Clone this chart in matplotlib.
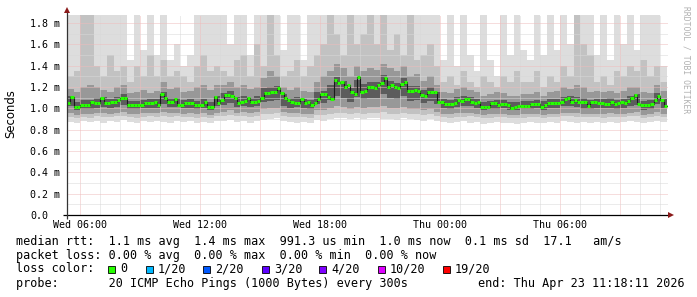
import matplotlib
matplotlib.use("Agg")
import matplotlib.pyplot as plt
import numpy as np
from matplotlib.patches import Rectangle

# ---------------- data ----------------
# median RTT (ms), one value per 10 minutes, starting Wed 05:21
median = [
    1.047, 1.109, 1.015, 1.015, 1.031, 1.031, 1.031, 1.063, 1.053, 1.047,
    1.100, 1.047, 1.047, 1.063, 1.063, 1.078, 1.094, 1.094, 1.031, 1.031,
    1.031, 1.031, 1.031, 1.047, 1.047, 1.047, 1.063, 1.031, 1.131, 1.094,
    1.063, 1.063, 1.084, 1.031, 1.031, 1.047, 1.047, 1.047, 1.031, 1.031,
    1.031, 1.063, 1.015, 1.015, 1.109, 1.047,
    1.078, 1.125, 1.125, 1.119, 1.094, 1.047, 1.056, 1.069, 1.094, 1.063,
    1.056, 1.072, 1.094, 1.140, 1.147, 1.150, 1.150, 1.187, 1.140, 1.094,
    1.075, 1.063, 1.050, 1.050, 1.084, 1.047, 1.056, 1.031, 1.047, 1.088,
    1.131, 1.137, 1.109, 1.084, 1.265, 1.234, 1.250, 1.203, 1.218, 1.156,
    1.131, 1.296, 1.150, 1.162, 1.200, 1.203, 1.187,
    1.218, 1.234, 1.287, 1.203, 1.218, 1.203, 1.187, 1.224, 1.243, 1.162,
    1.162, 1.169, 1.162, 1.125, 1.119, 1.150, 1.150, 1.156, 1.056, 1.063,
    1.044, 1.038, 1.038, 1.053, 1.078, 1.069, 1.088, 1.084, 1.063, 1.047,
    1.056, 1.015, 1.015, 1.009, 1.047, 1.047, 1.031, 1.041, 1.044, 1.031,
    1.006, 1.015, 1.025, 1.025, 1.022, 1.025,
    1.038, 1.041, 1.038, 1.015, 1.031, 1.047, 1.047, 1.047, 1.050, 1.063,
    1.084, 1.094, 1.056, 1.078, 1.056, 1.063, 1.063, 1.025, 1.056, 1.056,
    1.047, 1.050, 1.044, 1.041, 1.063, 1.038, 1.047, 1.056, 1.050, 1.069,
    1.100, 1.125, 1.041, 1.031, 1.031, 1.031, 1.041, 1.078, 1.119, 1.078,
    1.025,
]

# smoke (ping distribution, ms), one value per 20 minutes
s_max = [
    1.9, 1.9, 1.9, 1.9, 1.9, 1.9, 1.9, 1.9, 1.9, 1.45, 1.9, 1.55, 1.9, 1.5,
    1.9, 1.45, 1.6, 1.4, 1.5, 1.9, 1.9, 1.9, 1.9,
    1.9, 1.6, 1.9, 1.9, 1.5, 1.9, 1.9, 1.9, 1.9, 1.55, 1.9, 1.9, 1.45, 1.9,
    1.9, 1.9, 1.9, 1.9, 1.9, 1.9, 1.9, 1.9, 1.9,
    1.9, 1.9, 1.9, 1.9, 1.9, 1.9, 1.9, 1.9, 1.9, 1.9, 1.45, 1.9, 1.4, 1.9,
    1.5, 1.35, 1.9, 1.45, 1.3, 1.9, 1.5, 1.9, 1.55,
    1.45, 1.9, 1.5, 1.9, 1.55, 1.9, 1.6, 1.9, 1.9, 1.9, 1.5, 1.9, 1.45, 1.9,
    1.6, 1.9, 1.55, 1.9, 1.9, 1.9, 1.4,
]
s_hi2 = [
    1.3, 1.35, 1.9, 1.9, 1.4, 1.3, 1.5, 1.35, 1.4,
    1.25, 1.4, 1.3, 1.5, 1.3, 1.45, 1.3, 1.35, 1.3, 1.25, 1.4, 1.5, 1.35, 1.4,
    1.35, 1.3, 1.45, 1.5, 1.3, 1.6, 1.4, 1.9, 1.5, 1.3, 1.35, 1.45, 1.3, 1.4,
    1.5, 1.6, 1.9, 1.7, 1.5, 1.9, 1.6, 1.7, 1.9,
    1.6, 1.9, 1.55, 1.7, 1.5, 1.9, 1.45, 1.5, 1.6, 1.4, 1.25, 1.3, 1.22, 1.35,
    1.25, 1.2, 1.3, 1.25, 1.2, 1.3, 1.25, 1.35, 1.25,
    1.25, 1.35, 1.2, 1.3, 1.25, 1.4, 1.3, 1.9, 1.6, 1.5, 1.25, 1.3, 1.22, 1.35,
    1.3, 1.4, 1.35, 1.45, 1.3, 1.4, 1.25,
]
s_hi3 = [
    1.18, 1.15, 1.2, 1.22, 1.2, 1.17, 1.15, 1.2, 1.22, 1.14, 1.15, 1.17, 1.14,
    1.16, 1.25, 1.18, 1.2, 1.15, 1.16, 1.2, 1.22, 1.17, 1.22,
    1.22, 1.25, 1.2, 1.22, 1.18, 1.2, 1.28, 1.35, 1.3, 1.2, 1.17, 1.2, 1.16,
    1.15, 1.25, 1.3, 1.35, 1.42, 1.38, 1.3, 1.4, 1.35, 1.38,
    1.36, 1.42, 1.38, 1.35, 1.4, 1.3, 1.32, 1.26, 1.3, 1.22, 1.15, 1.14, 1.18,
    1.2, 1.17, 1.15, 1.12, 1.13, 1.15, 1.14, 1.12, 1.12, 1.13,
    1.13, 1.15, 1.12, 1.15, 1.16, 1.2, 1.18, 1.22, 1.2, 1.15, 1.16, 1.15, 1.16,
    1.14, 1.16, 1.2, 1.2, 1.15, 1.14, 1.22, 1.16,
]
s_hi4 = [
    1.12, 1.06, 1.08, 1.08, 1.1, 1.11, 1.09, 1.11, 1.13, 1.07, 1.07, 1.08, 1.09,
    1.09, 1.15, 1.1, 1.1, 1.08, 1.09, 1.07, 1.09, 1.06, 1.12,
    1.14, 1.16, 1.11, 1.12, 1.1, 1.12, 1.19, 1.2, 1.21, 1.13, 1.1, 1.11, 1.09,
    1.08, 1.15, 1.16, 1.22, 1.29, 1.26, 1.19, 1.27, 1.23, 1.25,
    1.25, 1.31, 1.26, 1.24, 1.28, 1.21, 1.21, 1.17, 1.2, 1.15, 1.09, 1.08, 1.11,
    1.12, 1.11, 1.09, 1.06, 1.07, 1.08, 1.08, 1.06, 1.06, 1.07,
    1.07, 1.08, 1.07, 1.09, 1.09, 1.11, 1.12, 1.11, 1.1, 1.08, 1.09, 1.09, 1.1,
    1.08, 1.09, 1.12, 1.13, 1.07, 1.08, 1.14, 1.09,
]
s_lo4 = [
    1.02, 0.98, 0.99, 0.99, 1.0, 1.01, 1.0, 1.01, 1.03, 0.99, 0.99, 1.0, 1.0,
    1.0, 1.04, 1.01, 1.01, 1.0, 1.0, 0.99, 1.0, 0.98, 1.02,
    1.03, 1.05, 1.01, 1.02, 1.01, 1.02, 1.06, 1.07, 1.08, 1.02, 1.0, 1.01, 1.0,
    0.99, 1.04, 1.05, 1.08, 1.12, 1.1, 1.06, 1.11, 1.09, 1.1,
    1.1, 1.13, 1.1, 1.09, 1.12, 1.07, 1.08, 1.05, 1.07, 1.04, 1.0, 0.99, 1.01,
    1.02, 1.02, 1.0, 0.98, 0.99, 0.99, 1.0, 0.98, 0.98, 0.99,
    0.99, 1.0, 0.98, 1.0, 1.0, 1.02, 1.02, 1.01, 0.99, 0.99, 1.0, 1.0, 1.0,
    0.99, 1.0, 1.02, 1.03, 0.98, 0.99, 1.04, 1.0,
]
s_lo3 = [
    0.96, 0.94, 0.95, 0.95, 0.96, 0.96, 0.95, 0.96, 0.97, 0.95, 0.95, 0.96, 0.96,
    0.96, 0.97, 0.96, 0.96, 0.95, 0.96, 0.95, 0.96, 0.94, 0.96,
    0.97, 0.98, 0.96, 0.97, 0.96, 0.97, 0.99, 1.0, 1.0, 0.97, 0.96, 0.96, 0.95,
    0.95, 0.98, 0.98, 1.0, 1.02, 1.01, 0.99, 1.01, 1.0, 1.01,
    1.01, 1.02, 1.0, 1.0, 1.01, 0.99, 0.99, 0.98, 0.99, 0.97, 0.95, 0.95, 0.96,
    0.96, 0.96, 0.95, 0.94, 0.95, 0.95, 0.95, 0.94, 0.94, 0.95,
    0.95, 0.95, 0.94, 0.95, 0.95, 0.96, 0.96, 0.96, 0.95, 0.95, 0.95, 0.95, 0.96,
    0.95, 0.95, 0.96, 0.97, 0.94, 0.95, 0.97, 0.95,
]
s_lo2 = [
    0.92, 0.91, 0.92, 0.91, 0.93, 0.92, 0.92, 0.93, 0.93, 0.92, 0.91, 0.92, 0.93,
    0.92, 0.93, 0.92, 0.93, 0.92, 0.92, 0.91, 0.92, 0.91, 0.93,
    0.93, 0.94, 0.93, 0.93, 0.92, 0.93, 0.95, 0.95, 0.96, 0.93, 0.92, 0.92, 0.92,
    0.91, 0.94, 0.94, 0.95, 0.96, 0.96, 0.95, 0.96, 0.95, 0.96,
    0.96, 0.97, 0.95, 0.95, 0.96, 0.95, 0.95, 0.94, 0.95, 0.93, 0.92, 0.91, 0.92,
    0.92, 0.93, 0.92, 0.91, 0.91, 0.92, 0.92, 0.91, 0.91, 0.91,
    0.92, 0.92, 0.91, 0.92, 0.92, 0.93, 0.93, 0.92, 0.92, 0.92, 0.92, 0.91, 0.92,
    0.92, 0.92, 0.93, 0.93, 0.91, 0.92, 0.93, 0.92,
]
s_min = [
    0.87, 0.86, 0.88, 0.87, 0.88, 0.86, 0.88, 0.87, 0.89, 0.87, 0.86, 0.88, 0.87,
    0.88, 0.87, 0.86, 0.88, 0.87, 0.88, 0.86, 0.87, 0.86, 0.88,
    0.88, 0.89, 0.87, 0.88, 0.86, 0.88, 0.89, 0.9, 0.91, 0.88, 0.87, 0.86, 0.87,
    0.86, 0.89, 0.88, 0.9, 0.91, 0.91, 0.9, 0.91, 0.9, 0.91,
    0.91, 0.9, 0.9, 0.89, 0.91, 0.9, 0.89, 0.88, 0.9, 0.88, 0.87, 0.86, 0.87,
    0.88, 0.86, 0.87, 0.85, 0.86, 0.87, 0.86, 0.86, 0.85, 0.86,
    0.87, 0.86, 0.86, 0.87, 0.86, 0.88, 0.87, 0.86, 0.87, 0.86, 0.87, 0.86, 0.87,
    0.86, 0.87, 0.88, 0.87, 0.86, 0.87, 0.88, 0.87,
]

x_tick_hours = [6, 12, 18, 24, 30]
x_tick_labels = ["Wed 06:00", "Wed 12:00", "Wed 18:00", "Thu 00:00", "Thu 06:00"]
y_tick_values = [0.0, 0.2, 0.4, 0.6, 0.8, 1.0, 1.2, 1.4, 1.6, 1.8]
y_tick_labels = ["0.0", "0.2 m", "0.4 m", "0.6 m", "0.8 m", "1.0 m",
                 "1.2 m", "1.4 m", "1.6 m", "1.8 m"]

loss_labels = ["0", "1/20", "2/20", "3/20", "4/20", "10/20", "19/20"]
loss_colors = ["#26ff00", "#00b8ff", "#0059ff", "#5e00ff", "#7e00ff", "#dd00ff", "#ff0000"]

legend_line1 = "median rtt:  1.1 ms avg  1.4 ms max  991.3 us min  1.0 ms now  0.1 ms sd  17.1   am/s"
legend_line2 = "packet loss: 0.00 % avg  0.00 % max  0.00 % min  0.00 % now"
legend_line3 = "loss color:"
legend_line4 = "probe:       20 ICMP Echo Pings (1000 Bytes) every 300s"
legend_end = "end: Thu Apr 23 11:18:11 2026"

# ---------------- figure ----------------
W, H = 697, 297
fig = plt.figure(figsize=(W / 100, H / 100), dpi=100)
fig.patch.set_facecolor("white")
ax = fig.add_axes([67 / W, 82 / H, 601 / W, 200 / H])
ax.set_facecolor("white")

T0 = 5.35
t_med = T0 + np.arange(len(median) + 1) / 6.0
t_sm = T0 + np.arange(len(s_max) + 1) / 3.0


def ext(a):
    a = np.asarray(a, dtype=float)
    return np.append(a, a[-1])


bands = [(s_min, s_max, "#dddddd"), (s_lo2, s_hi2, "#c2c2c2"),
         (s_lo3, s_hi3, "#989898"), (s_lo4, s_hi4, "#5c5c5c")]
for lo, hi, c in bands:
    ax.fill_between(t_sm, ext(lo), ext(hi), step="post", color=c, lw=0, zorder=1)

# grid (light dotted)
dot = (0, (1, 1))
for h in range(6, 36):
    major = (h % 3 == 0)
    ax.axvline(h, color="#efbcbc" if major else "#d9d9d9", lw=0.72, ls=dot, zorder=2)
for k in range(1, 19):
    v = k * 0.1
    major = (k % 2 == 0)
    ax.axhline(v, color="#efbcbc" if major else "#d9d9d9", lw=0.72, ls=dot, zorder=2)

# median
med = np.asarray(median)
ax.step(t_med, ext(med), where="post", color="#1a1a1a", lw=0.8, zorder=3)
ax.hlines(med, t_med[:-1], t_med[1:], colors=loss_colors[0], lw=2.2, zorder=4)

ax.set_xlim(T0, 35.4)
ax.set_ylim(0, 1.875)
for s in ax.spines.values():
    s.set_visible(False)

ax.set_xticks(x_tick_hours)
ax.set_xticklabels(x_tick_labels, family="DejaVu Sans Mono", fontsize=7.2)
ax.set_yticks(y_tick_values)
ax.set_yticklabels(y_tick_labels, family="DejaVu Sans Mono", fontsize=7.2, ha="left")
ax.tick_params(axis="x", length=0, pad=3.5)
ax.tick_params(axis="y", length=0, pad=26.6)

# axes lines + arrows
ax.plot([-4 / 601, 1.0], [0, 0], transform=ax.transAxes, color="black", lw=0.9,
        clip_on=False, zorder=6, solid_capstyle="butt")
ax.plot([0, 0], [-4 / 200, 1 + 3 / 200], transform=ax.transAxes, color="#333333", lw=0.9,
        clip_on=False, zorder=6, solid_capstyle="butt")
ax.plot([1 + 3 / 601], [0], marker=">", transform=ax.transAxes, color="#8b1a1a",
        markersize=4, clip_on=False, zorder=7, markeredgewidth=0)
ax.plot([0], [1 + 5 / 200], marker="^", transform=ax.transAxes, color="#8b1a1a",
        markersize=4, clip_on=False, zorder=7, markeredgewidth=0)

# labels
fig.text(11 / W, 1 - 114 / H, "Seconds", rotation=90, ha="center", va="center",
         fontsize=8.4, family="DejaVu Sans")
fig.text(686 / W, 1 - 60 / H, "RRDTOOL / TOBI OETIKER", rotation=270, ha="center",
         va="center", fontsize=5.8, color="#b0b0b0", family="DejaVu Sans Mono")

mono = dict(family="DejaVu Sans Mono", fontsize=8.5, va="center", ha="left")
fig.text(16 / W, 1 - 241 / H, legend_line1, **mono)
fig.text(16 / W, 1 - 255 / H, legend_line2, **mono)
fig.text(16 / W, 1 - 269 / H, legend_line3, **mono)
fig.text(16 / W, 1 - 283 / H, legend_line4, **mono)
fig.text(478 / W, 1 - 283 / H, legend_end, **mono)

sq_x = [108, 146, 203, 262, 319, 378, 443]
for xs, c, lab in zip(sq_x, loss_colors, loss_labels):
    fig.patches.append(Rectangle((xs / W, 1 - 273 / H), 7 / W, 7 / H,
                                 transform=fig.transFigure, facecolor=c,
                                 edgecolor="black", lw=0.6))
    fig.text((xs + 12) / W, 1 - 269 / H, lab, **mono)

fig.savefig("out.png", dpi=100, facecolor="white")
